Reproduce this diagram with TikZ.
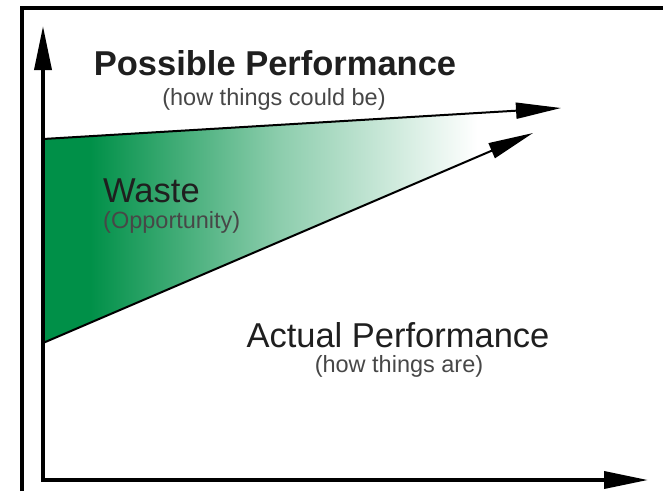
\documentclass[tikz,border=0pt]{standalone}
\usepackage{fontspec}
\setmainfont{Liberation Sans}
\usetikzlibrary{arrows.meta, positioning}
\definecolor{wgreen}{RGB}{0,144,72}
\pgfdeclarehorizontalshading{wasteshade}{100bp}{color(0bp)=(wgreen); color(30bp)=(wgreen); color(50bp)=(wgreen!45); color(71bp)=(white); color(100bp)=(white)}
\newcommand\titlefont{\fontsize{34.5}{40}\selectfont}
\newcommand\subfont{\fontsize{23.5}{28}\selectfont}

\begin{document}
\begin{tikzpicture}[x=1pt, y=-1pt,
    axis/.style={line width=3.6pt, -{Triangle[length=44pt, width=17pt]}},
    arrow/.style={line width=2pt, -{Triangle[length=45pt, width=16pt]}},
    frame/.style={line width=3.6pt},
    title/.style={inner sep=0pt, anchor=base, text=black!88, font=\titlefont},
    subtitle/.style={inner sep=0pt, anchor=base, text=black!72, font=\subfont},
]
\useasboundingbox (0,0) rectangle (663,491);

\coordinate (corner) at (22,8);
\coordinate (origin) at (43,480);
\coordinate (ytip) at (43,26);
\coordinate (xtip) at (648,480);
\coordinate (posstart) at (43,139);
\coordinate (posstip) at (561,108);
\coordinate (actstart) at (43,343);
\coordinate (acttip) at (533,133);
\coordinate (posend) at (515,110.8);
\coordinate (actend) at (515,140.3);

% waste area
\shade[shading=wasteshade] (posstart) -- (posend) -- (actend) -- (actstart) -- cycle;

\draw[frame] (corner|-0,491) -- (corner) -- (663,8);

\draw[axis] (origin) -- (ytip);
\draw[axis] ([xshift=-2pt]origin) -- (xtip);
\draw[arrow] (posstart) -- (posstip);
\draw[arrow] (actstart) -- (acttip);

\node[title, font=\titlefont\bfseries] (poss) at (275,75) {Possible Performance};
\node[subtitle] (posssub) at (274,105) {(how things could be)};
\node[title, anchor=base west] (waste) at (103,202) {Waste};
\node[subtitle, anchor=base west] (wastesub) at (103,228) {(Opportunity)};
\node[title] (act) at (398,347) {Actual Performance};
\node[subtitle] (actsub) at (399,372) {(how things are)};

\end{tikzpicture}
\end{document}
